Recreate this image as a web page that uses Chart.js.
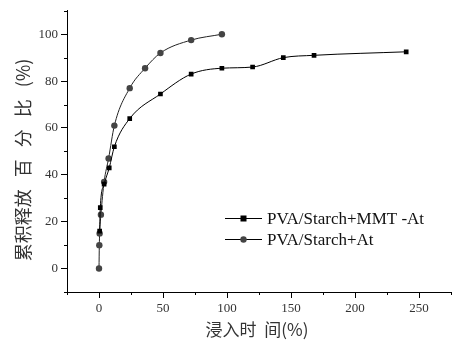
<!DOCTYPE html>
<html>
<head>
<meta charset="utf-8">
<script src="https://cdn.jsdelivr.net/npm/chart.js@4/dist/chart.umd.min.js"></script>
<style>
  html, body { margin: 0; padding: 0; background: #fff; }
  #wrap { width: 457px; height: 347px; }
</style>
</head>
<body>
<div id="wrap"><canvas id="releaseChart" width="457" height="347"></canvas></div>
<script>
// --- Data ---
const mmtLabel = 'PVA/Starch+MMT -At';
const mmtTime = [0.5, 1, 4, 8, 12, 24, 48, 72, 96, 120, 144, 168, 240];
const mmtRelease = [16, 26, 36, 43, 52, 64, 74.5, 83, 85.5, 86, 90, 91, 92.5];

const atLabel = 'PVA/Starch+At';
const atTime = [0, 0.25, 0.5, 1.5, 4, 7.5, 12, 24, 36, 48, 72, 96];
const atRelease = [0, 10, 15, 23, 37, 47, 61, 77, 85.5, 92, 97.5, 100];

const xTickLabels = [0, 50, 100, 150, 200, 250];
const yTickLabels = [0, 20, 40, 60, 80, 100];

const xTitle = '浸入时  间(%)';
const yTitle = ['累积释放', '百', '分', '比', '(%)'];

// --- Fonts ---
const SERIF = '"Liberation Serif", "DejaVu Serif", serif';
const CJK = '"Noto Sans CJK SC", sans-serif';

const toPoints = (xs, ys) => xs.map((x, i) => ({ x: x, y: ys[i] }));
const isMajor = (labels) => (c) => labels.includes(c.tick.value) ? '#000' : 'rgba(0,0,0,0)';

// Short minor ticks, axis titles and the legend box
const decorPlugin = {
    id: 'decor',
    afterDraw(chart) {
        const ctx = chart.ctx;
        const xs = chart.scales.x, ys = chart.scales.y;
        ctx.save();

        // minor ticks
        ctx.strokeStyle = '#000';
        ctx.lineWidth = 1;
        ctx.beginPath();
        xs.ticks.forEach(t => {
            if (xTickLabels.includes(t.value)) return;
            const px = Math.round(xs.getPixelForValue(t.value)) + 0.5;
            ctx.moveTo(px, xs.top);
            ctx.lineTo(px, xs.top + 3);
        });
        ys.ticks.forEach(t => {
            if (yTickLabels.includes(t.value)) return;
            const py = Math.round(ys.getPixelForValue(t.value)) + 0.5;
            ctx.moveTo(ys.right, py);
            ctx.lineTo(ys.right - 3, py);
        });
        ctx.stroke();

        ctx.fillStyle = '#333';
        ctx.font = '17px ' + CJK;
        ctx.textAlign = 'center';
        ctx.textBaseline = 'middle';

        // x title
        ctx.fillText(xTitle, 257, 330);

        // y title (rotated), pieces spread along the axis
        ctx.save();
        ctx.font = '18px ' + CJK;
        ctx.translate(23, 160);
        ctx.rotate(-Math.PI / 2);
        const gap = 12;
        const widths = yTitle.map(s => ctx.measureText(s).width);
        const total = widths.reduce((a, b) => a + b, 0) + gap * (yTitle.length - 1);
        let cx = -total / 2;
        ctx.textAlign = 'left';
        yTitle.forEach((s, i) => {
            ctx.fillText(s, cx, 0);
            cx += widths[i] + gap;
        });
        ctx.restore();

        // legend
        const rows = [
            { text: mmtLabel, style: 'rect', color: '#000' },
            { text: atLabel, style: 'circle', color: '#444' }
        ];
        ctx.font = '17px ' + SERIF;
        ctx.textAlign = 'left';
        rows.forEach((r, i) => {
            const y = 218.5 + i * 21;
            ctx.strokeStyle = '#000';
            ctx.beginPath();
            ctx.moveTo(225, y);
            ctx.lineTo(262, y);
            ctx.stroke();
            ctx.fillStyle = r.color;
            if (r.style === 'rect') {
                ctx.fillRect(240.5, y - 3, 6, 6);
            } else {
                ctx.beginPath();
                ctx.arc(243.5, y, 3.2, 0, Math.PI * 2);
                ctx.fill();
            }
            ctx.fillStyle = '#111';
            ctx.fillText(r.text, 267, y + 1);
        });
        ctx.restore();
    }
};

const ctx = document.getElementById('releaseChart').getContext('2d');

new Chart(ctx, {
    type: 'scatter',
    data: {
        datasets: [
            {
                label: mmtLabel,
                data: toPoints(mmtTime, mmtRelease),
                showLine: true,
                borderColor: '#000',
                borderWidth: 1,
                backgroundColor: '#000',
                pointStyle: 'rect',
                pointRadius: 3.3,
                pointBorderWidth: 0,
                cubicInterpolationMode: 'monotone'
            },
            {
                label: atLabel,
                data: toPoints(atTime, atRelease),
                showLine: true,
                borderColor: '#222',
                borderWidth: 1,
                backgroundColor: '#444',
                pointStyle: 'circle',
                pointRadius: 3.2,
                pointBorderWidth: 0,
                cubicInterpolationMode: 'monotone'
            }
        ]
    },
    options: {
        responsive: false,
        animation: false,
        layout: { padding: { top: 6, right: 6, left: 0, bottom: 0 } },
        plugins: {
            legend: { display: false },
            tooltip: { enabled: false }
        },
        scales: {
            x: {
                type: 'linear',
                min: -25,
                max: 275,
                afterFit: (s) => { s.height = 55; },
                border: { display: true, color: '#000', width: 1 },
                grid: { drawOnChartArea: false, drawTicks: true, tickLength: 6, color: '#000', tickColor: isMajor(xTickLabels) },
                ticks: {
                    stepSize: 25,
                    padding: 3,
                    color: '#333',
                    font: { family: SERIF, size: 13 },
                    callback: (v) => xTickLabels.includes(v) ? String(v) : ''
                }
            },
            y: {
                type: 'linear',
                min: -10,
                max: 110,
                afterFit: (s) => { s.width = 67; },
                border: { display: true, color: '#000', width: 1 },
                grid: { drawOnChartArea: false, drawTicks: true, tickLength: 6, color: '#000', tickColor: isMajor(yTickLabels) },
                ticks: {
                    stepSize: 10,
                    padding: 3,
                    color: '#333',
                    font: { family: SERIF, size: 13 },
                    callback: (v) => yTickLabels.includes(v) ? String(v) : ''
                }
            }
        }
    },
    plugins: [decorPlugin]
});
</script>
</body>
</html>
